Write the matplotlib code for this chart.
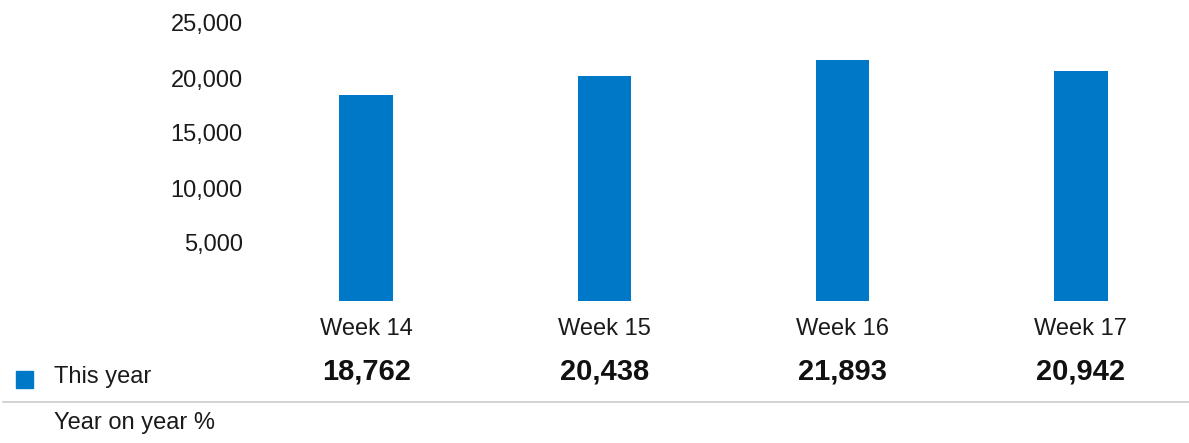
"""
plot.py - weekly totals bar chart with a small table below.
"""
import matplotlib
matplotlib.use("Agg")

import matplotlib.pyplot as plt
import matplotlib.transforms as mtransforms
from matplotlib.patches import Rectangle

# ── data ────────────────────────────────────────────────────────────────────
weeks = ["Week 14", "Week 15", "Week 16", "Week 17"]
this_year = [18762, 20438, 21893, 20942]
y_ticks = [5000, 10000, 15000, 20000, 25000]

BLUE = "#0078c8"
W, H = 1189, 443

plt.rcParams["font.family"] = ["Liberation Sans", "DejaVu Sans"]

fig = plt.figure(figsize=(W / 100, H / 100), dpi=100)

# axes placed in pixel terms: left 247, right 1189, bottom 301, top 26
ax = fig.add_axes([247 / W, 1 - 301 / H, (W - 247) / W, (301 - 26) / H])
x = range(len(weeks))
ax.bar(x, this_year, width=0.225, color=BLUE)
ax.set_xlim(-0.5, 3.5 - 11 / 238)
ax.set_ylim(0, 25000)
ax.set_yticks(y_ticks)
ax.set_yticklabels([f"{v:,}" for v in y_ticks], fontsize=17, color="#1a1a1a")
ax.tick_params(axis="y", length=0, pad=3)
# labels sit a touch higher than the ticks in the original
shift = mtransforms.ScaledTranslation(0, 3 / 100, fig.dpi_scale_trans)
for lbl in ax.get_yticklabels():
    lbl.set_transform(lbl.get_transform() + shift)
ax.set_xticks(list(x))
ax.set_xticklabels(weeks, fontsize=17, color="#1a1a1a")
ax.tick_params(axis="x", length=0, pad=12)
for s in ax.spines.values():
    s.set_visible(False)

# ── table rows under the chart ─────────────────────────────────────────────
trans = mtransforms.blended_transform_factory(ax.transData, fig.transFigure)
for i, v in enumerate(this_year):
    ax.text(i, 1 - 372 / H, f"{v:,}", transform=trans, ha="center", va="center",
            fontsize=21, fontweight="bold", color="#111111", clip_on=False)

fig.patches.append(Rectangle((16 / W, 1 - 388 / H), 17 / W, 17 / H,
                             transform=fig.transFigure, color=BLUE))
fig.text(54 / W, 1 - 377 / H, "This year", fontsize=17, va="center", color="#1a1a1a")
fig.add_artist(plt.Line2D([3 / W, 1], [1 - 402 / H] * 2, transform=fig.transFigure,
                          color="#cccccc", lw=1.2))
fig.text(54 / W, 1 - 423 / H, "Year on year %", fontsize=17, va="center", color="#1a1a1a")

fig.savefig("out.png", dpi=100)
